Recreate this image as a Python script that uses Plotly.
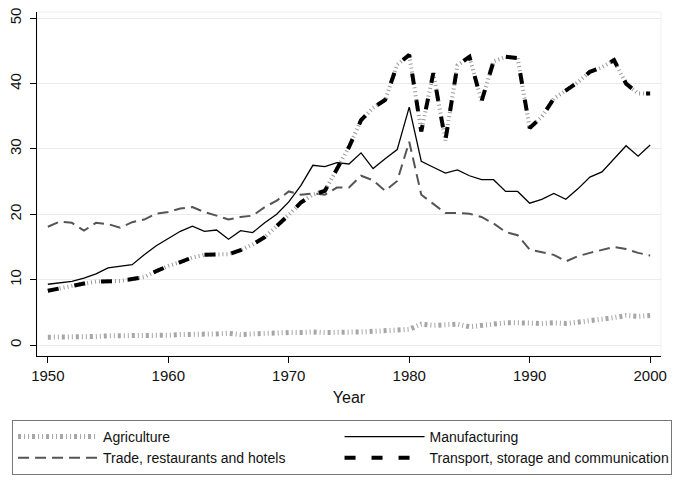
import plotly.graph_objects as go

years = list(range(1950, 2001))

agriculture = [1.2, 1.2, 1.3, 1.3, 1.3, 1.4, 1.4, 1.5, 1.5, 1.4,
               1.5, 1.6, 1.6, 1.7, 1.7, 1.8, 1.6, 1.7, 1.8, 1.8,
               1.9, 1.9, 2.0, 1.9, 1.9, 2.0, 2.0, 2.1, 2.2, 2.3,
               2.4, 3.2, 3.0, 3.1, 3.2, 2.8, 3.0, 3.3, 3.4, 3.4,
               3.3, 3.3, 3.4, 3.3, 3.5, 3.7, 3.9, 4.2, 4.5, 4.4, 4.5]

manufacturing = [9.3, 9.5, 9.75, 10.25, 10.9, 11.8, 12.0, 12.3, 13.8, 15.2,
                 16.3, 17.4, 18.2, 17.4, 17.6, 16.2, 17.5, 17.2, 18.7, 20.0,
                 21.9, 24.4, 27.5, 27.3, 27.9, 27.7, 29.4, 27.0, 28.5, 29.9,
                 36.4, 28.1, 27.2, 26.3, 26.8, 25.9, 25.3, 25.3, 23.5, 23.5,
                 21.7, 22.3, 23.2, 22.3, 23.9, 25.7, 26.5, 28.5, 30.5, 28.9, 30.6]

trade = [18.1, 18.9, 18.7, 17.5, 18.7, 18.5, 17.95, 18.8, 19.2, 20.1,
         20.35, 20.9, 21.1, 20.35, 19.8, 19.2, 19.6, 19.8, 21.1, 22.1,
         23.5, 23.0, 23.2, 23.0, 24.1, 24.1, 25.9, 25.2, 23.6, 25.1,
         31.1, 23.0, 21.6, 20.2, 20.2, 20.1, 19.6, 18.6, 17.3, 16.8,
         14.6, 14.2, 13.8, 12.8, 13.6, 14.1, 14.6, 15.0, 14.7, 14.1, 13.7]

transport = [8.3, 8.7, 9.0, 9.4, 9.7, 9.8, 9.8, 10.1, 10.4, 11.3,
             12.1, 12.7, 13.4, 13.8, 13.9, 13.9, 14.5, 15.4, 16.5, 18.1,
             19.9, 21.8, 23.0, 23.6, 27.0, 30.3, 34.4, 36.3, 37.5, 42.9,
             44.4, 32.7, 41.6, 31.3, 42.8, 44.1, 37.3, 43.4, 44.1, 43.9,
             33.2, 34.9, 37.7, 39.0, 40.2, 41.8, 42.5, 43.6, 40.0, 38.5, 38.5]

x_ticks = [1950, 1960, 1970, 1980, 1990, 2000]
y_ticks = [0, 10, 20, 30, 40, 50]

FONT = "Liberation Sans, Arial, sans-serif"

fig = go.Figure()

fig.add_trace(go.Scatter(
    x=years, y=agriculture, mode="lines", name="Agriculture",
    line=dict(color="#a6a6a6", width=5, dash="3px,3px,1px,3px,1px,3px"),
))
fig.add_trace(go.Scatter(
    x=years, y=manufacturing, mode="lines", name="Manufacturing",
    line=dict(color="#000000", width=1.3),
))
fig.add_trace(go.Scatter(
    x=years, y=trade, mode="lines", name="Trade, restaurants and hotels",
    line=dict(color="#555555", width=2, dash="11px,6px"),
))
# gray dotted underlay for transport (not in legend)
fig.add_trace(go.Scatter(
    x=years, y=transport, mode="lines", name="Transport (underlay)",
    line=dict(color="#9a9a9a", width=4, dash="1px,3px"),
    showlegend=False, hoverinfo="skip",
))
fig.add_trace(go.Scatter(
    x=years, y=transport, mode="lines", name="Transport, storage and communication",
    line=dict(color="#000000", width=4, dash="11px,16px"),
))

fig.update_layout(
    width=684, height=481,
    margin=dict(l=29, r=31, t=4, b=133, autoexpand=False),
    paper_bgcolor="white", plot_bgcolor="white",
    font=dict(family=FONT, size=15, color="#111111"),
    showlegend=True,
    legend=dict(
        orientation="h",
        traceorder="normal",
        x=-0.040, xanchor="left",
        y=-0.186, yanchor="top",
        bordercolor="#777777", borderwidth=1,
        bgcolor="white",
        font=dict(family=FONT, size=14, color="#111111"),
        itemwidth=80,
        entrywidth=0.5, entrywidthmode="fraction",
    ),
    xaxis=dict(
        range=[1949.1, 2000.9],
        tickvals=x_ticks,
        ticks="outside", ticklen=6, tickcolor="#000000",
        showline=True, linecolor="#000000", linewidth=1.3,
        showgrid=False, zeroline=False,
        title=dict(text="Year", font=dict(size=16), standoff=8),
        tickfont=dict(size=15),
    ),
    yaxis=dict(
        range=[-1.68, 50.96],
        tickvals=y_ticks,
        ticks="outside", ticklen=6, tickcolor="#000000",
        showline=True, linecolor="#000000", linewidth=1.3,
        showgrid=True, gridcolor="#ececec", gridwidth=1,
        zeroline=False,
        tickangle=-90,
        tickfont=dict(size=15),
        ticklabelstandoff=3,
        ticklabeloverflow="allow",
    ),
)

fig.add_shape(type="rect", xref="paper", yref="paper", x0=0, x1=1, y0=0, y1=1,
              line=dict(color="#f0f0f0", width=1), layer="below")

fig.write_html("out.html")
